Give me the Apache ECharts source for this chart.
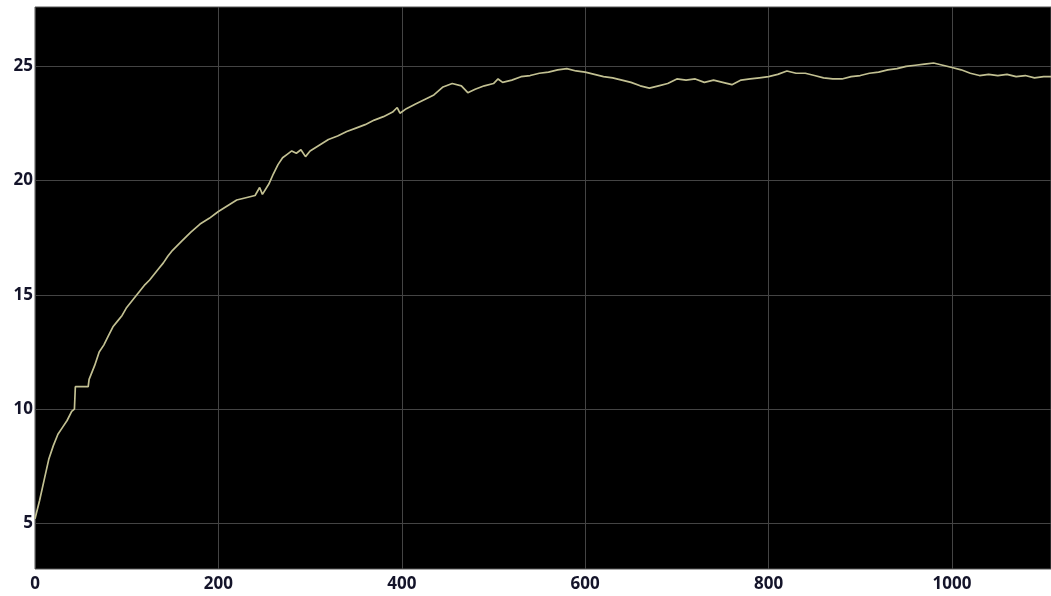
<!DOCTYPE html>
<html>
<head>
<meta charset="utf-8">
<title>scope</title>
<script src="https://cdn.jsdelivr.net/npm/echarts@6/dist/echarts.min.js"></script>
<style>
    html, body { margin: 0; padding: 0; background: #fff; }
    #main { width: 1051px; height: 596px; }
</style>
</head>
<body>
<div id="main"></div>
<script>
    // 横轴 (时间)
    var xs = [0, 5, 10, 15, 20, 25, 30, 35, 40, 43, 44, 58, 59, 65, 70, 75, 80, 85, 90, 95,
        100, 105, 110, 115, 120, 125, 130, 135, 140, 145, 150, 160, 170, 180, 190, 200,
        210, 220, 230, 240, 245, 248, 255, 260, 265, 270, 275, 280, 285, 290, 295, 300,
        310, 320, 330, 340, 350, 360, 370, 380, 390, 395, 398, 405, 415, 425, 435, 445,
        455, 465, 472, 480, 490, 500, 505, 510, 520, 530, 540, 550, 560, 570, 580, 590,
        600, 610, 620, 630, 640, 650, 660, 670, 680, 690, 700, 710, 720, 730, 740, 750,
        760, 770, 780, 790, 800, 810, 820, 830, 840, 850, 860, 870, 880, 890, 900, 910,
        920, 930, 940, 950, 960, 970, 980, 990, 1000, 1010, 1020, 1030, 1040, 1050, 1060,
        1070, 1080, 1090, 1100, 1108];
    // 纵轴数值
    var ys = [5.2, 6.0, 6.9, 7.8, 8.4, 8.9, 9.2, 9.5, 9.9, 10.0, 10.98, 10.98, 11.3, 11.9, 12.5, 12.8, 13.2, 13.6, 13.85, 14.1,
        14.45, 14.7, 14.95, 15.2, 15.45, 15.65, 15.9, 16.15, 16.4, 16.7, 16.95, 17.35, 17.75, 18.1, 18.35, 18.65,
        18.9, 19.15, 19.25, 19.35, 19.7, 19.4, 19.85, 20.3, 20.7, 21.0, 21.15, 21.3, 21.2, 21.35, 21.05, 21.3,
        21.55, 21.8, 21.95, 22.15, 22.3, 22.45, 22.65, 22.8, 23.0, 23.2, 22.95, 23.15, 23.35, 23.55, 23.75, 24.1,
        24.25, 24.15, 23.85, 24.0, 24.15, 24.25, 24.45, 24.3, 24.4, 24.55, 24.6, 24.7, 24.75, 24.85, 24.9, 24.8,
        24.75, 24.65, 24.55, 24.5, 24.4, 24.3, 24.15, 24.05, 24.15, 24.25, 24.45, 24.4, 24.45, 24.3, 24.4, 24.3,
        24.2, 24.4, 24.45, 24.5, 24.55, 24.65, 24.8, 24.7, 24.7, 24.6, 24.5, 24.45, 24.45, 24.55, 24.6, 24.7,
        24.75, 24.85, 24.9, 25.0, 25.05, 25.1, 25.15, 25.05, 24.95, 24.85, 24.7, 24.6, 24.65, 24.6, 24.65,
        24.55, 24.6, 24.5, 24.55, 24.55];
    var yTicks = [5, 10, 15, 20, 25];

    var points = xs.map(function (x, i) { return [x, ys[i]]; });

    var chart = echarts.init(document.getElementById('main'));

    var labelStyle = {
        color: '#14142a',
        fontFamily: 'Open Sans',
        fontWeight: 'bold',
        fontSize: 17
    };

    var option = {
        backgroundColor: '#ffffff',
        animation: false,
        grid: {
            left: 35,
            right: 0,
            top: 7,
            bottom: 27,
            show: true,
            backgroundColor: '#000000',
            borderColor: '#555555',
            borderWidth: 1
        },
        xAxis: {
            type: 'value',
            min: 0,
            max: 1108,
            interval: 200,
            axisLine: { show: false },
            axisTick: { show: false },
            axisLabel: Object.assign({
                margin: 7,
                showMaxLabel: false,
                formatter: function (v) { return String(v); }
            }, labelStyle),
            splitLine: { show: true, lineStyle: { color: '#444444', width: 1 } }
        },
        yAxis: {
            type: 'value',
            min: 3,
            max: 27.6,
            axisLine: { show: false },
            axisTick: { show: false, customValues: yTicks },
            axisLabel: Object.assign({ margin: 2, customValues: yTicks }, labelStyle),
            splitLine: { show: true, lineStyle: { color: '#444444', width: 1 } }
        },
        series: [{
            type: 'line',
            data: points,
            showSymbol: false,
            lineStyle: { color: '#c2c092', width: 1.7 }
        }]
    };

    chart.setOption(option);
</script>
</body>
</html>
